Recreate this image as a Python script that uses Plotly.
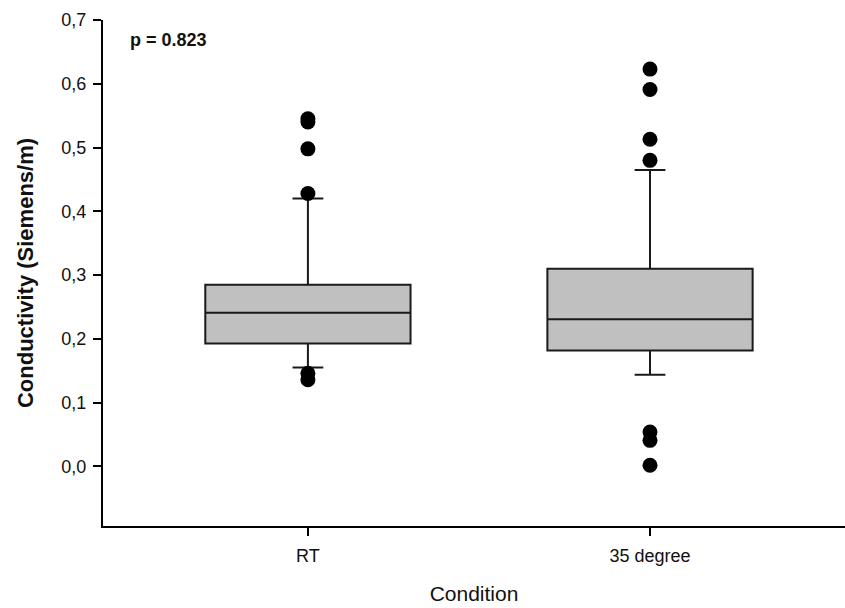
import plotly.graph_objects as go

categories = ["RT", "35 degree"]
q1 = [0.193, 0.182]
median = [0.241, 0.231]
q3 = [0.285, 0.310]
lower_whisker = [0.155, 0.144]
upper_whisker = [0.420, 0.465]

outlier_x = ["RT", "RT", "RT", "RT", "RT", "RT",
             "35 degree", "35 degree", "35 degree", "35 degree",
             "35 degree", "35 degree", "35 degree"]
outlier_y = [0.545, 0.540, 0.498, 0.428, 0.146, 0.136,
             0.623, 0.591, 0.513, 0.480, 0.054, 0.041, 0.002]

y_ticks = [0.0, 0.1, 0.2, 0.3, 0.4, 0.5, 0.6, 0.7]
y_ticklabels = ["0,0", "0,1", "0,2", "0,3", "0,4", "0,5", "0,6", "0,7"]

FONT = "Liberation Sans, Arial, sans-serif"

fig = go.Figure()
fig.add_trace(go.Box(
    x=categories, q1=q1, median=median, q3=q3,
    lowerfence=lower_whisker, upperfence=upper_whisker,
    boxpoints=False, width=0.6, whiskerwidth=0.15,
    fillcolor="#c0c0c0", line=dict(color="#1a1a1a", width=2),
    showlegend=False, hoverinfo="skip",
))
fig.add_trace(go.Scatter(
    x=outlier_x, y=outlier_y, mode="markers",
    marker=dict(color="black", size=15),
    showlegend=False,
))

fig.add_annotation(
    text="<b>p = 0.823</b>", x=0.034, xref="paper", y=0.668, yref="y",
    xanchor="left", yanchor="middle", showarrow=False,
    font=dict(family=FONT, size=18, color="#111111"),
)

fig.update_layout(
    width=845, height=608,
    margin=dict(l=103, r=0, t=20, b=82),
    paper_bgcolor="white", plot_bgcolor="white",
    font=dict(family=FONT, color="#111111"),
)
fig.update_xaxes(
    type="category", categoryorder="array", categoryarray=categories,
    range=[-0.599, 1.57],
    showline=True, linecolor="black", linewidth=2, mirror=False,
    ticks="outside", ticklen=8, tickwidth=1.5, tickcolor="black",
    showgrid=False, zeroline=False,
    tickfont=dict(size=18), ticklabelstandoff=4,
    title=dict(text="Condition", font=dict(size=21), standoff=22),
)
fig.update_yaxes(
    range=[-0.0933, 0.7],
    tickvals=y_ticks, ticktext=y_ticklabels,
    showline=True, linecolor="black", linewidth=2,
    ticks="outside", ticklen=8, tickwidth=1.5, tickcolor="black",
    showgrid=False, zeroline=False,
    tickfont=dict(size=18), ticklabelstandoff=3,
    title=dict(text="<b>Conductivity (Siemens/m)</b>", font=dict(size=22), standoff=22),
)

fig.write_html("out.html")
